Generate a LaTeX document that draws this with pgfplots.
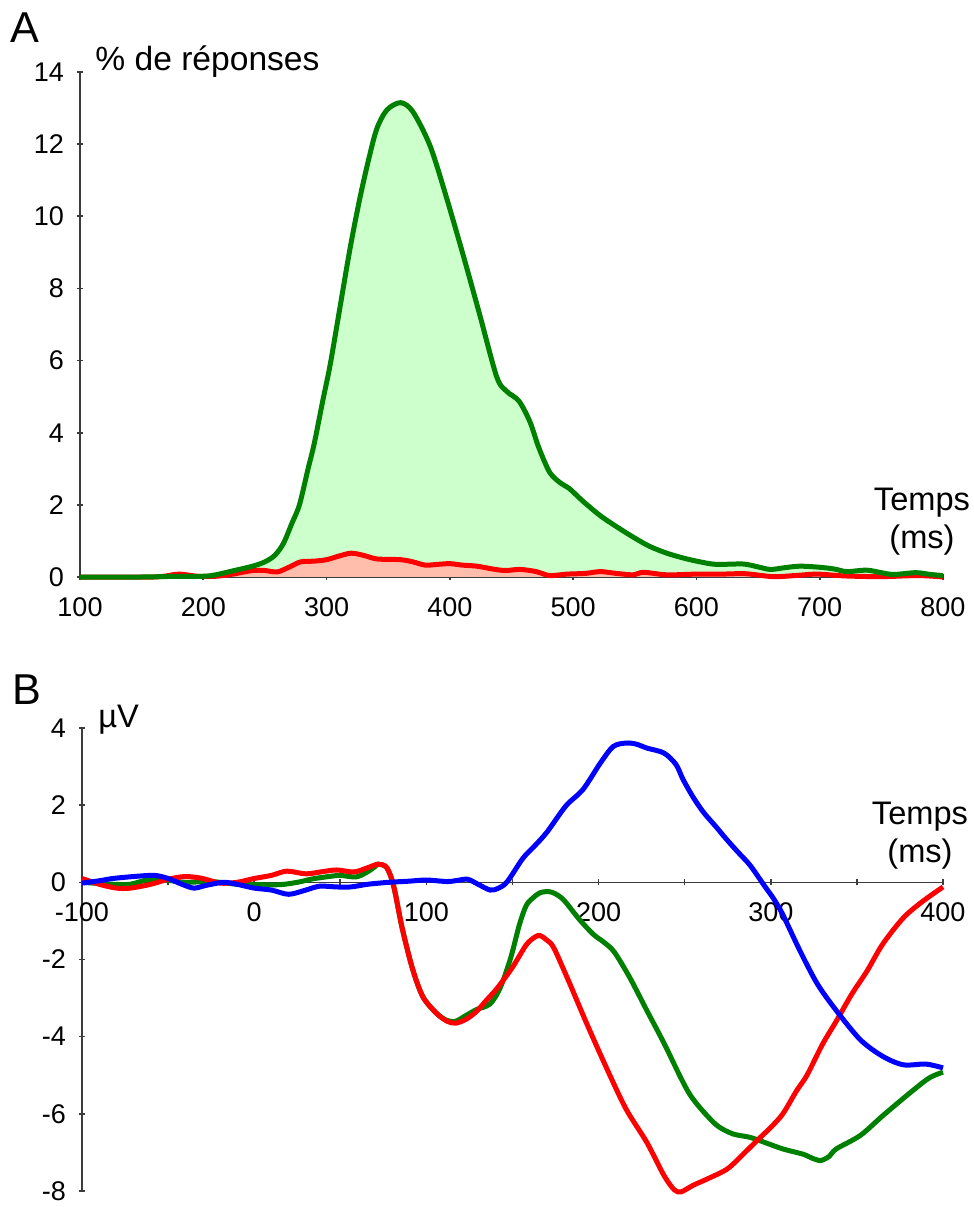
\documentclass[border=0pt]{standalone}
\usepackage{pgfplots}
\pgfplotsset{compat=1.18}
\usepackage{fontspec}
\setmainfont{Liberation Sans}
\definecolor{dgreen}{RGB}{0,128,0}
\definecolor{lgreen}{RGB}{204,255,204}
\definecolor{lred}{RGB}{255,190,172}
\definecolor{axgray}{RGB}{60,60,60}

\pgfplotsset{
  common/.style={
    scale only axis, clip=false,
    tick align=outside, major tick length=3pt, minor tick length=3pt,
    ticklabel style={font=\fontsize{13.5}{15}\selectfont, inner ysep=0.5pt},
    /pgf/number format/assume math mode=true,
    /pgf/number format/1000 sep={},
    hide obscured x ticks=false, hide obscured y ticks=false,
  },
  fixlines/.style={
    axis line style={-, line width=0.8pt, axgray},
    x axis line style={-}, y axis line style={-},
    every outer x axis line/.append style={-},
    every outer y axis line/.append style={-},
    every inner x axis line/.append style={-},
    every inner y axis line/.append style={-},
    tick style={line width=0.8pt, axgray},
  }
}

\begin{document}
\begin{tikzpicture}
\useasboundingbox (0,0) rectangle (487pt,603.5pt);

% ---------------- Panel A ----------------
\begin{axis}[common,
  at={(40pt,315pt)}, anchor=south west,
  width=431.5pt, height=252.5pt,
  xmin=100, xmax=800, ymin=0, ymax=14,
  axis lines=left, fixlines,
  xtick={100,200,...,800}, ytick={0,2,...,14},
  xticklabel style={yshift=-8pt}, yticklabel style={xshift=-3pt},
]
\addplot[fill=lgreen, draw=none] coordinates {
(100,0) (150,0) (180,0.02) (200,0.02) (210,0.06) (224,0.17) (240,0.3) (250,0.42) (258,0.6) (265,0.93) (272,1.5) (278,2.0) (285,3.0) (290,3.7) (297,4.9) (303,5.9) (311,7.5) (319,9.1) (327,10.5) (335,11.7) (341,12.45) (349,12.95) (360,13.15) (370,12.9) (384,11.95) (397,10.55) (411,8.9) (424,7.3) (438,5.55) (446,5.15) (456,4.88) (465,4.3) (472,3.6) (481,2.9) (490,2.6) (497,2.45) (508,2.1) (522,1.7) (535,1.4) (549,1.1) (562,0.85) (576,0.66) (590,0.52) (603,0.42) (616,0.35) (638,0.36) (650,0.28) (660,0.21) (672,0.26) (684,0.3) (700,0.27) (712,0.22) (722,0.15) (738,0.19) (750,0.12) (760,0.07) (778,0.12) (790,0.07) (800,0.04)
} \closedcycle;
\addplot[fill=lred, draw=none] coordinates {
(100,0) (160,0) (180,0.08) (195,0.02) (210,0.02) (224,0.08) (240,0.18) (250,0.18) (260,0.14) (270,0.28) (279,0.42) (290,0.44) (300,0.48) (310,0.58) (320,0.66) (330,0.6) (341,0.5) (360,0.48) (370,0.42) (380,0.33) (390,0.35) (400,0.37) (410,0.33) (422,0.3) (435,0.22) (445,0.18) (457,0.21) (470,0.15) (481,0.04) (495,0.08) (510,0.1) (522,0.15) (535,0.1) (549,0.06) (557,0.13) (576,0.06) (600,0.08) (620,0.08) (640,0.09) (662,0.01) (680,0.04) (698,0.08) (720,0.03) (750,0.01) (780,0.04) (800,0.0)
} \closedcycle;
\addplot[red, line width=2.5pt, smooth, tension=0.5] coordinates {
(100,0) (160,0) (180,0.08) (195,0.02) (210,0.02) (224,0.08) (240,0.18) (250,0.18) (260,0.14) (270,0.28) (279,0.42) (290,0.44) (300,0.48) (310,0.58) (320,0.66) (330,0.6) (341,0.5) (360,0.48) (370,0.42) (380,0.33) (390,0.35) (400,0.37) (410,0.33) (422,0.3) (435,0.22) (445,0.18) (457,0.21) (470,0.15) (481,0.04) (495,0.08) (510,0.1) (522,0.15) (535,0.1) (549,0.06) (557,0.13) (576,0.06) (600,0.08) (620,0.08) (640,0.09) (662,0.01) (680,0.04) (698,0.08) (720,0.03) (750,0.01) (780,0.04) (800,0.0)
};
\addplot[dgreen, line width=2.5pt, smooth, tension=0.5] coordinates {
(100,0) (150,0) (180,0.02) (200,0.02) (210,0.06) (224,0.17) (240,0.3) (250,0.42) (258,0.6) (265,0.93) (272,1.5) (278,2.0) (285,3.0) (290,3.7) (297,4.9) (303,5.9) (311,7.5) (319,9.1) (327,10.5) (335,11.7) (341,12.45) (349,12.95) (360,13.15) (370,12.9) (384,11.95) (397,10.55) (411,8.9) (424,7.3) (438,5.55) (446,5.15) (456,4.88) (465,4.3) (472,3.6) (481,2.9) (490,2.6) (497,2.45) (508,2.1) (522,1.7) (535,1.4) (549,1.1) (562,0.85) (576,0.66) (590,0.52) (603,0.42) (616,0.35) (638,0.36) (650,0.28) (660,0.21) (672,0.26) (684,0.3) (700,0.27) (712,0.22) (722,0.15) (738,0.19) (750,0.12) (760,0.07) (778,0.12) (790,0.07) (800,0.04)
};
\end{axis}

% ---------------- Panel B ----------------
\begin{axis}[common,
  at={(41pt,8pt)}, anchor=south west,
  width=430.5pt, height=231.5pt,
  xmin=-100, xmax=400, ymin=-8, ymax=4,
  axis x line=middle, axis y line=left, fixlines,
  xtick={-100,0,...,400}, minor xtick={-50,50,...,350},
  ytick={-8,-6,...,4},
  xticklabel style={yshift=-8pt}, yticklabel style={xshift=-3pt},
]
\addplot[dgreen, line width=2.5pt, smooth, tension=0.5] coordinates {
(-100,0.0) (-82,-0.05) (-72,-0.05) (-62,0.06) (-50,0.05) (-40,0.0) (-25,0.02) (-10,-0.05) (0,-0.06) (15,-0.06) (25,0.0) (34,0.09) (45,0.16) (50,0.18) (59,0.14) (65,0.25) (70,0.4) (72,0.47) (77,0.38) (81,-0.1) (86,-1.2) (92,-2.25) (98,-2.97) (106,-3.4) (112,-3.58) (117,-3.6) (123,-3.45) (129,-3.3) (137,-3.15) (143,-2.72) (149,-1.95) (154,-1.1) (158,-0.6) (162,-0.4) (166,-0.27) (171,-0.24) (175,-0.3) (180,-0.47) (189,-0.97) (197,-1.35) (203,-1.55) (209,-1.8) (218,-2.46) (228,-3.32) (238,-4.17) (247,-5.0) (253,-5.5) (260,-5.9) (269,-6.31) (278,-6.52) (288,-6.61) (297,-6.75) (307,-6.91) (319,-7.05) (324,-7.15) (329,-7.21) (334,-7.1) (338,-6.91) (352,-6.56) (365,-6.05) (381,-5.45) (392,-5.07) (400,-4.92)
};
\addplot[red, line width=2.5pt, smooth, tension=0.5] coordinates {
(-100,0.1) (-90,-0.05) (-80,-0.15) (-72,-0.15) (-60,-0.05) (-50,0.08) (-40,0.15) (-30,0.1) (-20,-0.02) (-10,0.0) (0,0.1) (10,0.18) (19,0.29) (30,0.22) (40,0.28) (48,0.32) (58,0.27) (66,0.38) (72,0.47) (77,0.38) (81,-0.1) (86,-1.2) (92,-2.25) (98,-2.97) (106,-3.4) (112,-3.6) (117,-3.65) (123,-3.55) (129,-3.35) (135,-3.05) (141,-2.75) (150,-2.2) (158,-1.62) (163,-1.42) (166,-1.38) (170,-1.5) (174,-1.7) (183,-2.6) (193,-3.65) (205,-4.85) (216,-5.88) (228,-6.74) (238,-7.6) (244,-7.97) (248,-8.02) (255,-7.85) (264,-7.67) (275,-7.42) (285,-7.0) (293,-6.65) (300,-6.35) (307,-6.0) (315,-5.4) (321,-5.0) (330,-4.2) (338,-3.6) (347,-2.9) (356,-2.29) (365,-1.6) (377,-0.92) (388,-0.5) (400,-0.12)
};
\addplot[blue, line width=2.5pt, smooth, tension=0.5] coordinates {
(-100,-0.02) (-90,0.04) (-82,0.1) (-70,0.15) (-58,0.18) (-50,0.1) (-42,-0.05) (-35,-0.15) (-28,-0.08) (-18,0.0) (-10,-0.05) (0,-0.15) (10,-0.2) (20,-0.31) (30,-0.2) (38,-0.1) (48,-0.12) (56,-0.12) (66,-0.05) (78,0.0) (90,0.03) (100,0.06) (112,0.02) (118,0.05) (124,0.08) (130,-0.05) (137,-0.2) (142,-0.15) (147,0.02) (156,0.62) (163,0.95) (170,1.3) (181,1.98) (191,2.41) (201,3.09) (208.5,3.52) (216,3.61) (222,3.58) (228,3.48) (238,3.35) (245,3.05) (249,2.67) (255,2.2) (261,1.81) (268,1.45) (274,1.13) (281,0.78) (288,0.44) (296,-0.07) (302,-0.45) (307,-0.84) (317,-1.78) (327,-2.63) (338,-3.32) (352,-4.08) (365,-4.51) (377,-4.73) (390,-4.71) (400,-4.81)
};
\end{axis}

% ---------------- Texts ----------------
\node[anchor=base west, inner sep=0, font=\fontsize{21.6}{24}\selectfont] at (5pt,582pt) {A};
\node[anchor=base west, inner sep=0, font=\fontsize{16.8}{18}\selectfont] at (47.5pt,568pt) {\% de réponses};
\node[anchor=north, inner sep=0, align=center, font=\fontsize{16.3}{19}\selectfont] at (461pt,359.5pt) {Temps\\(ms)};
\node[anchor=base west, inner sep=0, font=\fontsize{21.6}{24}\selectfont] at (6pt,251pt) {B};
\node[anchor=base west, inner sep=0, font=\fontsize{16.3}{18}\selectfont] at (49pt,239.5pt) {µV};
\node[anchor=north, inner sep=0, align=center, font=\fontsize{16.3}{19}\selectfont] at (460pt,202.5pt) {Temps\\(ms)};
\end{tikzpicture}
\end{document}
